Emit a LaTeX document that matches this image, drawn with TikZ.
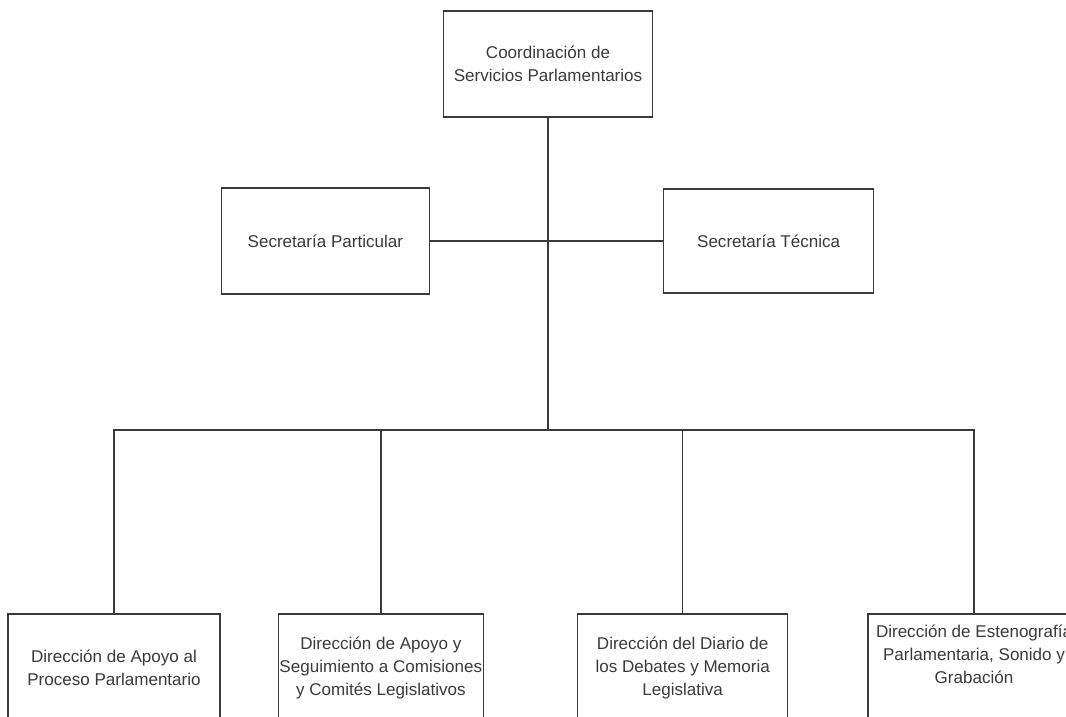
\documentclass[tikz,border=0pt]{standalone}
\usepackage{fontspec}
\setmainfont{Liberation Sans}
\usetikzlibrary{positioning}
\definecolor{inkgray}{HTML}{3A3A3A}
\tikzset{
    orgbox/.style={draw=inkgray, line width=0.8pt, align=center, text=inkgray,
        inner sep=0pt, font=\fontsize{9.7}{13}\selectfont},
    orgline/.style={draw=inkgray, line width=0.8pt}
}

\begin{document}
\begin{tikzpicture}[x=0.02cm, y=-0.02cm]
        \useasboundingbox (0,0) rectangle (1066,717);
        \clip (0,0) rectangle (1066,717);
        \node[orgbox, minimum width=4.18cm, minimum height=2.12cm] (coord) at (548,64) {Coordinación de\\Servicios Parlamentarios};
        \coordinate (hub) at (548,241);
        \coordinate (bus) at (548,430);
        \node[orgbox, minimum width=4.16cm, minimum height=2.12cm, left=2.36cm of hub] (secpart) {Secretaría Particular};
        \node[orgbox, minimum width=4.2cm, minimum height=2.08cm, right=2.3cm of hub] (sectec) {Secretaría Técnica};
        \node[orgbox, minimum width=4.24cm, minimum height=2.16cm] (dirproc) at (114,668) {Dirección de Apoyo al\\Proceso Parlamentario};
        \node[orgbox, minimum width=4.1cm, minimum height=2.16cm, right=1.14cm of dirproc] (dircom) {Dirección de Apoyo y\\Seguimiento a Comisiones\\y Comités Legislativos};
        \node[orgbox, minimum width=4.2cm, minimum height=2.16cm, right=1.86cm of dircom] (dirdiario) {Dirección del Diario de\\los Debates y Memoria\\Legislativa};
        \node[orgbox, minimum width=4.24cm, minimum height=2.16cm, text depth=0.55cm, right=1.58cm of dirdiario] (direst) {Dirección de Estenografía\\Parlamentaria, Sonido y\\Grabación};
        \draw[orgline] (coord) -- (bus);
        \draw[orgline] (secpart) -- (sectec);
        \draw[orgline] (dirproc.north) |- (bus) -| (direst.north);
        \draw[orgline] (dircom.north) -- (dircom.north |- bus);
        \draw[orgline] (dirdiario.north) -- (dirdiario.north |- bus);
\end{tikzpicture}
\end{document}
